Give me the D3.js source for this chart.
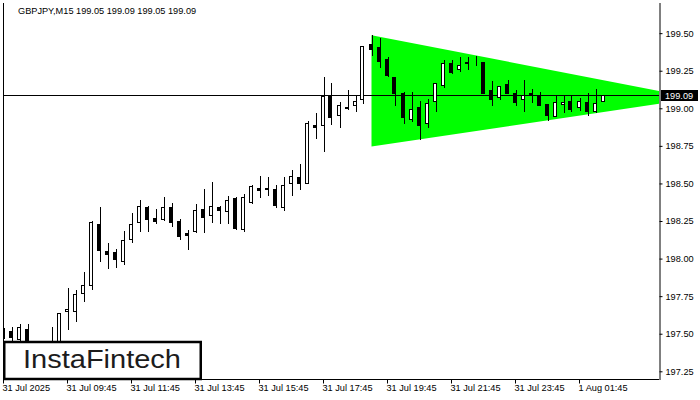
<!DOCTYPE html>
<html>
<head>
<meta charset="utf-8">
<script src="https://cdn.jsdelivr.net/npm/d3@7/dist/d3.min.js"></script>
<style>
html,body{margin:0;padding:0;background:#fff;}
svg{display:block;}
text{font-family:"Liberation Sans",Arial,sans-serif;}
</style>
</head>
<body>
<svg id="chart" width="700" height="400"></svg>
<script>
const symbolTitle = "GBPJPY,M15  199.05 199.09 199.05 199.09";
const openV  = [197.485,197.52,197.467,197.53,197.44,197.38,197.42,197.43,197.649,197.649,197.769,197.826,198.23,198.05,198.044,197.986,198.128,198.243,198.341,198.268,198.261,198.341,198.248,198.168,198.182,198.328,198.288,198.341,198.319,198.403,198.199,198.377,198.47,198.466,198.461,198.345,198.501,198.541,198.501,198.887,198.887,199.086,198.957,199.002,199.02,199.06,199.428,199.406,199.326,199.206,199.1,198.927,199.007,198.9,199.047,199.157,199.299,199.259,199.308,199.32,199.306,199.122,199.077,199.162,199.1,199.06,199.1,199.086,199.029,198.949,199.029,199.047,199.007,199.042,198.984,199.05];
const highV  = [197.54,197.547,197.565,197.565,197.45,197.44,197.547,197.64,197.804,197.79,197.911,198.248,198.345,198.106,198.062,198.182,198.305,198.39,198.35,198.328,198.408,198.372,198.265,198.19,198.363,198.461,198.51,198.35,198.416,198.412,198.43,198.492,198.55,198.545,198.492,198.545,198.59,198.629,198.913,198.967,199.206,199.17,199.042,199.122,199.082,199.415,199.486,199.468,199.339,199.21,199.108,199.108,199.047,199.064,199.166,199.321,199.321,199.339,199.339,199.348,199.31,199.18,199.148,199.188,199.122,199.188,199.126,199.108,199.029,199.086,199.086,199.086,199.069,199.104,199.126,199.09];
const lowV   = [197.47,197.458,197.458,197.40,197.33,197.34,197.37,197.40,197.53,197.587,197.72,197.80,197.986,197.937,197.946,197.964,198.11,198.186,198.186,198.239,198.26,198.217,198.132,198.066,198.18,198.177,198.243,198.239,198.239,198.199,198.186,198.368,198.412,198.425,198.345,198.323,198.425,198.465,198.50,198.802,198.718,198.896,198.878,198.997,198.984,199.037,199.357,199.277,199.215,199.02,198.904,198.913,198.798,198.878,198.984,199.144,199.237,199.246,199.263,199.286,199.10,199.024,199.064,199.104,199.024,198.984,199.042,199.02,198.922,198.949,198.975,198.984,198.989,198.957,198.975,199.05];
const closeV = [197.528,197.48,197.543,197.44,197.38,197.42,197.44,197.636,197.667,197.764,197.822,198.243,198.057,198.029,197.999,198.124,198.23,198.35,198.261,198.248,198.345,198.241,198.15,198.159,198.323,198.279,198.35,198.323,198.39,198.204,198.408,198.483,198.456,198.47,198.359,198.488,198.55,198.505,198.90,198.878,199.082,198.944,199.02,199.007,199.047,199.415,199.397,199.317,199.22,199.104,198.94,198.997,198.887,199.037,199.166,199.303,199.242,199.286,199.299,199.32,199.104,199.064,199.148,199.104,199.042,199.086,199.086,199.02,198.957,199.042,199.042,198.997,199.047,198.98,199.037,199.09];
const xTickIndex  = [0,8,16,24,32,40,48,56,64,72];
const xTickLabels = ["31 Jul 2025","31 Jul 09:45","31 Jul 11:45","31 Jul 13:45","31 Jul 15:45","31 Jul 17:45","31 Jul 19:45","31 Jul 21:45","31 Jul 23:45","1 Aug 01:45"];
const yTickValues = [197.25,197.50,197.75,198.00,198.25,198.50,198.75,199.00,199.25,199.50];
const currentPrice = 199.09;
// symmetrical triangle pattern: [bar index, price]
const triangleBars   = [46, 86.6, 46];
const trianglePrices = [199.486, 199.067, 198.745];

const svg = d3.select("#chart");
const L = 3, R = 659, T = 3, B = 379;
const x = d3.scaleLinear().domain([0, 75]).range([3.5, 603.5]);
const y = d3.scaleLinear().domain([197.25, 199.5]).range([371.3, 33.15]);
const py = v => Math.round(y(v)) + 0.5;

svg.append("defs").append("clipPath").attr("id","plotclip")
  .append("rect").attr("x",L).attr("y",T).attr("width",R-L).attr("height",B-T);

const plot = svg.append("g").attr("clip-path","url(#plotclip)");

// triangle
const triPts = triangleBars.map((b,i)=>[x(b), y(trianglePrices[i])]);
plot.append("path")
  .attr("d", d3.line()(triPts) + "Z")
  .attr("fill", "#00ff00");

// current price line
plot.append("line")
  .attr("x1", L).attr("x2", R)
  .attr("y1", py(currentPrice)).attr("y2", py(currentPrice))
  .attr("stroke", "#000").attr("stroke-width", 1);

// candles
const idx = d3.range(openV.length);
const cg = plot.append("g").attr("shape-rendering","crispEdges");
cg.selectAll("line.wick").data(idx).join("line")
  .attr("class","wick")
  .attr("x1", i => Math.round(x(i)) + 0.5 - 0.5 + 0.0)
  .attr("x2", i => Math.round(x(i)) + 0.5 - 0.5 + 0.0)
  .attr("y1", i => py(highV[i]) - 0.5)
  .attr("y2", i => py(lowV[i]) + 0.5)
  .attr("stroke","#000").attr("stroke-width",1);
cg.selectAll("rect.body").data(idx).join("rect")
  .attr("class","body")
  .attr("x", i => Math.round(x(i)) - 2.5)
  .attr("width", 3)
  .attr("y", i => py(Math.max(openV[i], closeV[i])))
  .attr("height", i => Math.max(0, py(Math.min(openV[i], closeV[i])) - py(Math.max(openV[i], closeV[i]))))
  .attr("fill", i => closeV[i] >= openV[i] ? "#fff" : "#000")
  .attr("stroke","#000").attr("stroke-width",1);

// borders
svg.append("line").attr("x1",L+0.5).attr("x2",L+0.5).attr("y1",T).attr("y2",B+0.5).attr("stroke","#000");
svg.append("line").attr("x1",L).attr("x2",R).attr("y1",B+0.5).attr("y2",B+0.5).attr("stroke","#000");

// right axis
const yAxis = d3.axisRight(y).tickValues(yTickValues).tickSize(3).tickPadding(3).tickFormat(d3.format(".2f"));
const ya = svg.append("g").attr("transform",`translate(${R+0.5},0)`).call(yAxis);
ya.select(".domain").attr("d", `M0.5,${T}V${B+1}`).attr("stroke","#000");
ya.selectAll(".tick line").attr("stroke","#000");
ya.selectAll(".tick text").attr("font-size","9.2px").attr("fill","#000")
  .attr("font-family",'"Liberation Sans",Arial,sans-serif');

// current price label
const cpy = py(currentPrice);
svg.append("rect").attr("x",661).attr("y",cpy-5.5).attr("width",37).attr("height",11).attr("fill","#000");
svg.append("text").attr("x",665).attr("y",cpy+3.3).attr("fill","#fff").attr("font-size","9.2px").text(d3.format(".2f")(currentPrice));

// bottom axis
const xAxis = d3.axisBottom(x).tickValues(xTickIndex).tickSize(4).tickPadding(2)
  .tickFormat((d,i)=>xTickLabels[i]);
const xa = svg.append("g").attr("transform",`translate(0,${B+0.5})`).call(xAxis);
xa.select(".domain").remove();
xa.selectAll(".tick line").attr("stroke","#000").attr("transform","translate(-0.5,0)");
xa.selectAll(".tick text").attr("text-anchor","start").attr("dx","-1.5").attr("dy","0.55em")
  .attr("font-size","9.2px").attr("fill","#000")
  .attr("font-family",'"Liberation Sans",Arial,sans-serif');

// header
svg.append("text").attr("x",18).attr("y",14).attr("font-size","9.2px").attr("fill","#000").text(symbolTitle);

// logo
svg.append("rect").attr("x",4.25).attr("y",342).attr("width",196.5).attr("height",37)
  .attr("fill","#fff").attr("stroke","#000").attr("stroke-width",2.5);
svg.append("text").attr("x",23).attr("y",367.5)
  .attr("font-family","Inter, Lato, sans-serif").attr("font-weight",500)
  .attr("font-size","25px").attr("fill","#1c1c1c")
  .attr("textLength",158).attr("lengthAdjust","spacingAndGlyphs")
  .text("InstaFintech");
</script>
</body>
</html>
